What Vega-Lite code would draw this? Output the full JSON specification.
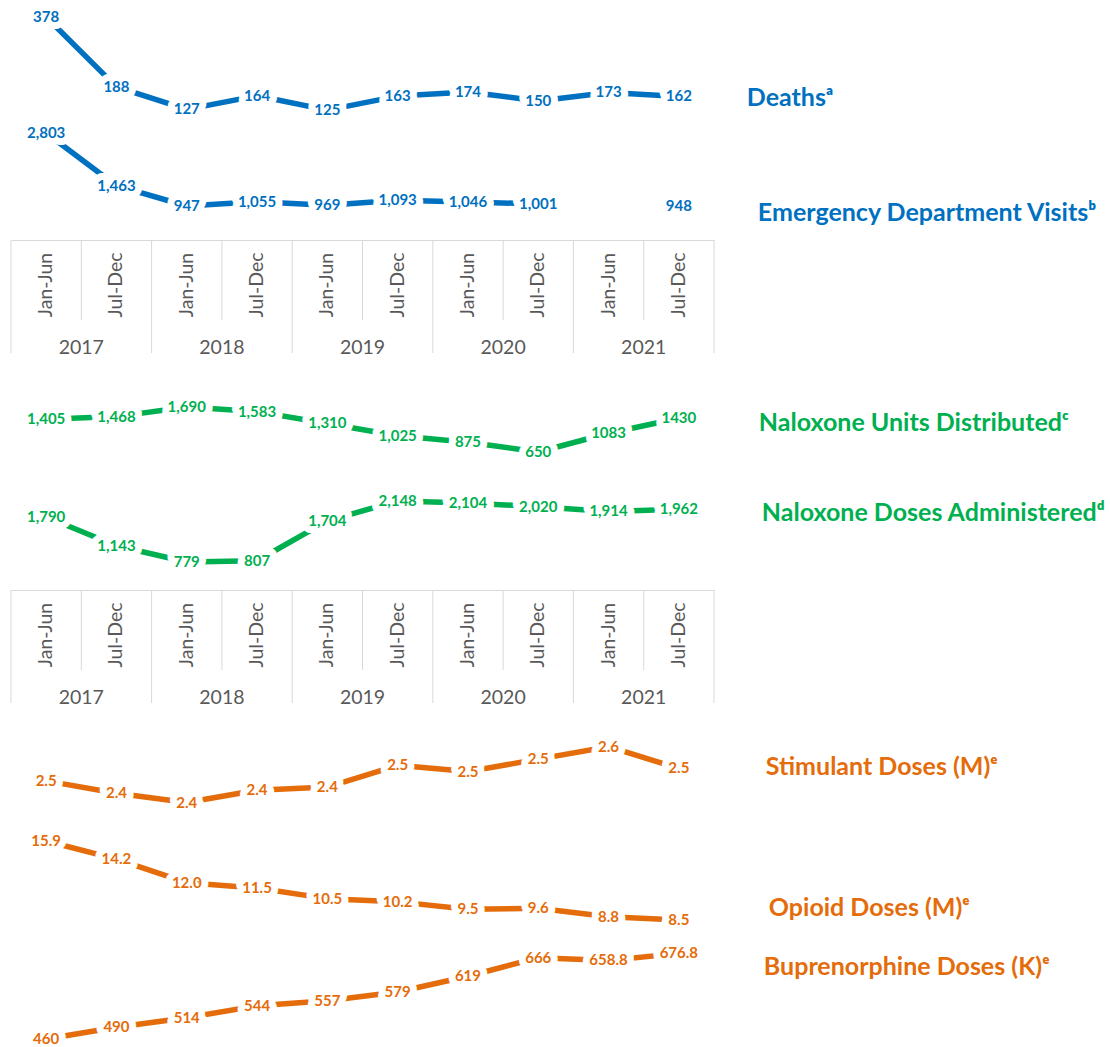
{
  "$schema": "https://vega.github.io/schema/vega-lite/v6.json",
  "padding": {"left": 10, "top": 0, "right": 0, "bottom": 0},
  "autosize": {"type": "pad"},
  "background": "white",
  "config": {"view": {"stroke": null}, "font": "Lato"},
  "spacing": 0,
  "bounds": "flush",
  "resolve": {"scale": {"x": "independent", "y": "independent"}},
  "datasets": {
    "d": [
      {"measure": "Deaths", "period": "2017 Jan-Jun", "value": 378, "label": "378"},
      {"measure": "Deaths", "period": "2017 Jul-Dec", "value": 188, "label": "188"},
      {"measure": "Deaths", "period": "2018 Jan-Jun", "value": 127, "label": "127"},
      {"measure": "Deaths", "period": "2018 Jul-Dec", "value": 164, "label": "164"},
      {"measure": "Deaths", "period": "2019 Jan-Jun", "value": 125, "label": "125"},
      {"measure": "Deaths", "period": "2019 Jul-Dec", "value": 163, "label": "163"},
      {"measure": "Deaths", "period": "2020 Jan-Jun", "value": 174, "label": "174"},
      {"measure": "Deaths", "period": "2020 Jul-Dec", "value": 150, "label": "150"},
      {"measure": "Deaths", "period": "2021 Jan-Jun", "value": 173, "label": "173"},
      {"measure": "Deaths", "period": "2021 Jul-Dec", "value": 162, "label": "162"},
      {"measure": "ED", "period": "2017 Jan-Jun", "value": 2803, "label": "2,803"},
      {"measure": "ED", "period": "2017 Jul-Dec", "value": 1463, "label": "1,463"},
      {"measure": "ED", "period": "2018 Jan-Jun", "value": 947, "label": "947"},
      {"measure": "ED", "period": "2018 Jul-Dec", "value": 1055, "label": "1,055"},
      {"measure": "ED", "period": "2019 Jan-Jun", "value": 969, "label": "969"},
      {"measure": "ED", "period": "2019 Jul-Dec", "value": 1093, "label": "1,093"},
      {"measure": "ED", "period": "2020 Jan-Jun", "value": 1046, "label": "1,046"},
      {"measure": "ED", "period": "2020 Jul-Dec", "value": 1001, "label": "1,001"},
      {"measure": "ED", "period": "2021 Jan-Jun", "value": null, "label": null},
      {"measure": "ED", "period": "2021 Jul-Dec", "value": 948, "label": "948"},
      {"measure": "NalUnits", "period": "2017 Jan-Jun", "value": 1405, "label": "1,405"},
      {"measure": "NalUnits", "period": "2017 Jul-Dec", "value": 1468, "label": "1,468"},
      {"measure": "NalUnits", "period": "2018 Jan-Jun", "value": 1690, "label": "1,690"},
      {"measure": "NalUnits", "period": "2018 Jul-Dec", "value": 1583, "label": "1,583"},
      {"measure": "NalUnits", "period": "2019 Jan-Jun", "value": 1310, "label": "1,310"},
      {"measure": "NalUnits", "period": "2019 Jul-Dec", "value": 1025, "label": "1,025"},
      {"measure": "NalUnits", "period": "2020 Jan-Jun", "value": 875, "label": "875"},
      {"measure": "NalUnits", "period": "2020 Jul-Dec", "value": 650, "label": "650"},
      {"measure": "NalUnits", "period": "2021 Jan-Jun", "value": 1083, "label": "1083"},
      {"measure": "NalUnits", "period": "2021 Jul-Dec", "value": 1430, "label": "1430"},
      {"measure": "NalDoses", "period": "2017 Jan-Jun", "value": 1790, "label": "1,790"},
      {"measure": "NalDoses", "period": "2017 Jul-Dec", "value": 1143, "label": "1,143"},
      {"measure": "NalDoses", "period": "2018 Jan-Jun", "value": 779, "label": "779"},
      {"measure": "NalDoses", "period": "2018 Jul-Dec", "value": 807, "label": "807"},
      {"measure": "NalDoses", "period": "2019 Jan-Jun", "value": 1704, "label": "1,704"},
      {"measure": "NalDoses", "period": "2019 Jul-Dec", "value": 2148, "label": "2,148"},
      {"measure": "NalDoses", "period": "2020 Jan-Jun", "value": 2104, "label": "2,104"},
      {"measure": "NalDoses", "period": "2020 Jul-Dec", "value": 2020, "label": "2,020"},
      {"measure": "NalDoses", "period": "2021 Jan-Jun", "value": 1914, "label": "1,914"},
      {"measure": "NalDoses", "period": "2021 Jul-Dec", "value": 1962, "label": "1,962"},
      {"measure": "Stimulant", "period": "2017 Jan-Jun", "value": 2.46, "label": "2.5"},
      {"measure": "Stimulant", "period": "2017 Jul-Dec", "value": 2.42, "label": "2.4"},
      {"measure": "Stimulant", "period": "2018 Jan-Jun", "value": 2.39, "label": "2.4"},
      {"measure": "Stimulant", "period": "2018 Jul-Dec", "value": 2.43, "label": "2.4"},
      {"measure": "Stimulant", "period": "2019 Jan-Jun", "value": 2.44, "label": "2.4"},
      {"measure": "Stimulant", "period": "2019 Jul-Dec", "value": 2.51, "label": "2.5"},
      {"measure": "Stimulant", "period": "2020 Jan-Jun", "value": 2.49, "label": "2.5"},
      {"measure": "Stimulant", "period": "2020 Jul-Dec", "value": 2.53, "label": "2.5"},
      {"measure": "Stimulant", "period": "2021 Jan-Jun", "value": 2.57, "label": "2.6"},
      {"measure": "Stimulant", "period": "2021 Jul-Dec", "value": 2.50, "label": "2.5"},
      {"measure": "Opioid", "period": "2017 Jan-Jun", "value": 15.9, "label": "15.9"},
      {"measure": "Opioid", "period": "2017 Jul-Dec", "value": 14.2, "label": "14.2"},
      {"measure": "Opioid", "period": "2018 Jan-Jun", "value": 12.0, "label": "12.0"},
      {"measure": "Opioid", "period": "2018 Jul-Dec", "value": 11.5, "label": "11.5"},
      {"measure": "Opioid", "period": "2019 Jan-Jun", "value": 10.5, "label": "10.5"},
      {"measure": "Opioid", "period": "2019 Jul-Dec", "value": 10.2, "label": "10.2"},
      {"measure": "Opioid", "period": "2020 Jan-Jun", "value": 9.5, "label": "9.5"},
      {"measure": "Opioid", "period": "2020 Jul-Dec", "value": 9.6, "label": "9.6"},
      {"measure": "Opioid", "period": "2021 Jan-Jun", "value": 8.8, "label": "8.8"},
      {"measure": "Opioid", "period": "2021 Jul-Dec", "value": 8.5, "label": "8.5"},
      {"measure": "Bupe", "period": "2017 Jan-Jun", "value": 460, "label": "460"},
      {"measure": "Bupe", "period": "2017 Jul-Dec", "value": 490, "label": "490"},
      {"measure": "Bupe", "period": "2018 Jan-Jun", "value": 514, "label": "514"},
      {"measure": "Bupe", "period": "2018 Jul-Dec", "value": 544, "label": "544"},
      {"measure": "Bupe", "period": "2019 Jan-Jun", "value": 557, "label": "557"},
      {"measure": "Bupe", "period": "2019 Jul-Dec", "value": 579, "label": "579"},
      {"measure": "Bupe", "period": "2020 Jan-Jun", "value": 619, "label": "619"},
      {"measure": "Bupe", "period": "2020 Jul-Dec", "value": 666, "label": "666"},
      {"measure": "Bupe", "period": "2021 Jan-Jun", "value": 658.8, "label": "658.8"},
      {"measure": "Bupe", "period": "2021 Jul-Dec", "value": 676.8, "label": "676.8"}
    ],
    "t": [
      {"period": "2017 Jan-Jun", "year": "2017", "half": "Jan-Jun"},
      {"period": "2017 Jul-Dec", "year": "2017", "half": "Jul-Dec"},
      {"period": "2018 Jan-Jun", "year": "2018", "half": "Jan-Jun"},
      {"period": "2018 Jul-Dec", "year": "2018", "half": "Jul-Dec"},
      {"period": "2019 Jan-Jun", "year": "2019", "half": "Jan-Jun"},
      {"period": "2019 Jul-Dec", "year": "2019", "half": "Jul-Dec"},
      {"period": "2020 Jan-Jun", "year": "2020", "half": "Jan-Jun"},
      {"period": "2020 Jul-Dec", "year": "2020", "half": "Jul-Dec"},
      {"period": "2021 Jan-Jun", "year": "2021", "half": "Jan-Jun"},
      {"period": "2021 Jul-Dec", "year": "2021", "half": "Jul-Dec"}
    ]
  },
  "vconcat": [
    {
      "width": 703, "height": 240,
      "data": {"name": "d"},
      "encoding": {"x": {"field": "period", "type": "ordinal", "axis": null, "scale": {"type": "point", "padding": 0.5, "domain": ["2017 Jan-Jun","2017 Jul-Dec","2018 Jan-Jun","2018 Jul-Dec","2019 Jan-Jun","2019 Jul-Dec","2020 Jan-Jun","2020 Jul-Dec","2021 Jan-Jun","2021 Jul-Dec"]}}},
      "layer": [
        {
          "transform": [{"filter": "datum.measure === 'Deaths'"}],
          "encoding": {"y": {"field": "value", "type": "quantitative", "axis": null, "scale": {"domain": [-228, 424.2], "nice": false, "zero": false}}},
          "layer": [
            {"mark": {"type": "line", "color": "#0070C0", "strokeWidth": 5.5, "strokeJoin": "round"}},
            {"mark": {"type": "text", "font": "Lato", "fontSize": 15, "fontWeight": "bold", "fill": "white", "stroke": "white", "strokeWidth": 14, "strokeJoin": "round"}, "encoding": {"text": {"field": "label"}}},
            {"mark": {"type": "text", "font": "Lato", "fontSize": 15, "fontWeight": "bold", "color": "#0070C0"}, "encoding": {"text": {"field": "label"}}},
            {"transform": [{"filter": "datum.period === '2021 Jul-Dec'"}], "mark": {"type": "text", "font": "Lato", "fontSize": 25, "fontWeight": "bold", "color": "#0070C0", "align": "left", "dx": 68, "dy": 1.5, "text": "Deathsᵃ"}}
          ]
        },
        {
          "transform": [{"filter": "datum.measure === 'ED'"}],
          "encoding": {"y": {"field": "value", "type": "quantitative", "axis": null, "scale": {"domain": [82.5, 6185], "nice": false, "zero": false}}},
          "layer": [
            {"mark": {"type": "line", "color": "#0070C0", "strokeWidth": 5.5, "strokeJoin": "round"}},
            {"mark": {"type": "text", "font": "Lato", "fontSize": 15, "fontWeight": "bold", "fill": "white", "stroke": "white", "strokeWidth": 14, "strokeJoin": "round"}, "encoding": {"text": {"field": "label"}}},
            {"mark": {"type": "text", "font": "Lato", "fontSize": 15, "fontWeight": "bold", "color": "#0070C0"}, "encoding": {"text": {"field": "label"}}},
            {"transform": [{"filter": "datum.period === '2021 Jul-Dec'"}], "mark": {"type": "text", "font": "Lato", "fontSize": 25, "fontWeight": "bold", "color": "#0070C0", "align": "left", "dx": 79, "dy": 7, "text": "Emergency Department Visitsᵇ"}}
          ]
        }
      ],
      "resolve": {"scale": {"y": "independent"}}
    },
    {
      "width": 703, "height": 80,
      "data": {"name": "t"},
      "layer": [
        {"mark": {"type": "rule", "color": "#D9D9D9", "strokeWidth": 1}, "encoding": {"x": {"field": "period", "type": "ordinal", "bandPosition": 0, "scale": {"type": "band", "padding": 0, "domain": ["2017 Jan-Jun","2017 Jul-Dec","2018 Jan-Jun","2018 Jul-Dec","2019 Jan-Jun","2019 Jul-Dec","2020 Jan-Jun","2020 Jul-Dec","2021 Jan-Jun","2021 Jul-Dec"]}, "axis": {"orient": "top", "domain": true, "domainColor": "#D9D9D9", "domainWidth": 1, "ticks": false, "labels": false, "grid": false, "title": null}}}},
        {"transform": [{"filter": "datum.period === '2021 Jul-Dec'"}], "mark": {"type": "rule", "color": "#D9D9D9", "strokeWidth": 1}, "encoding": {"x": {"field": "period", "type": "ordinal", "bandPosition": 1, "scale": {"type": "band", "padding": 0, "domain": ["2017 Jan-Jun","2017 Jul-Dec","2018 Jan-Jun","2018 Jul-Dec","2019 Jan-Jun","2019 Jul-Dec","2020 Jan-Jun","2020 Jul-Dec","2021 Jan-Jun","2021 Jul-Dec"]}, "axis": {"orient": "top", "domain": true, "domainColor": "#D9D9D9", "domainWidth": 1, "ticks": false, "labels": false, "grid": false, "title": null}}}},
        {"mark": {"type": "text", "font": "Lato", "fontSize": 19.5, "color": "#595959", "angle": 270, "dx": -5}, "encoding": {"x": {"field": "period", "type": "ordinal", "bandPosition": 0.5, "scale": {"type": "band", "padding": 0, "domain": ["2017 Jan-Jun","2017 Jul-Dec","2018 Jan-Jun","2018 Jul-Dec","2019 Jan-Jun","2019 Jul-Dec","2020 Jan-Jun","2020 Jul-Dec","2021 Jan-Jun","2021 Jul-Dec"]}, "axis": {"orient": "top", "domain": true, "domainColor": "#D9D9D9", "domainWidth": 1, "ticks": false, "labels": false, "grid": false, "title": null}}, "text": {"field": "half"}}}
      ]
    },
    {
      "width": 703, "height": 33,
      "data": {"name": "t"},
      "layer": [
        {"transform": [{"filter": "datum.half === 'Jan-Jun'"}], "mark": {"type": "rule", "color": "#D9D9D9", "strokeWidth": 1}, "encoding": {"x": {"field": "period", "type": "ordinal", "bandPosition": 0, "axis": null, "scale": {"type": "band", "padding": 0, "domain": ["2017 Jan-Jun","2017 Jul-Dec","2018 Jan-Jun","2018 Jul-Dec","2019 Jan-Jun","2019 Jul-Dec","2020 Jan-Jun","2020 Jul-Dec","2021 Jan-Jun","2021 Jul-Dec"]}}}},
        {"transform": [{"filter": "datum.period === '2021 Jul-Dec'"}], "mark": {"type": "rule", "color": "#D9D9D9", "strokeWidth": 1}, "encoding": {"x": {"field": "period", "type": "ordinal", "bandPosition": 1, "axis": null, "scale": {"type": "band", "padding": 0, "domain": ["2017 Jan-Jun","2017 Jul-Dec","2018 Jan-Jun","2018 Jul-Dec","2019 Jan-Jun","2019 Jul-Dec","2020 Jan-Jun","2020 Jul-Dec","2021 Jan-Jun","2021 Jul-Dec"]}}}},
        {"transform": [{"filter": "datum.half === 'Jan-Jun'"}], "mark": {"type": "text", "font": "Lato", "fontSize": 19.5, "color": "#595959", "dy": 11}, "encoding": {"x": {"field": "period", "type": "ordinal", "bandPosition": 1, "axis": null, "scale": {"type": "band", "padding": 0, "domain": ["2017 Jan-Jun","2017 Jul-Dec","2018 Jan-Jun","2018 Jul-Dec","2019 Jan-Jun","2019 Jul-Dec","2020 Jan-Jun","2020 Jul-Dec","2021 Jan-Jun","2021 Jul-Dec"]}}, "text": {"field": "year"}}}
      ]
    },
    {
      "width": 703, "height": 237,
      "data": {"name": "d"},
      "encoding": {"x": {"field": "period", "type": "ordinal", "axis": null, "scale": {"type": "point", "padding": 0.5, "domain": ["2017 Jan-Jun","2017 Jul-Dec","2018 Jan-Jun","2018 Jul-Dec","2019 Jan-Jun","2019 Jul-Dec","2020 Jan-Jun","2020 Jul-Dec","2021 Jan-Jun","2021 Jul-Dec"]}}},
      "layer": [
        {
          "transform": [{"filter": "datum.measure === 'NalUnits'"}],
          "encoding": {"y": {"field": "value", "type": "quantitative", "axis": null, "scale": {"domain": [-2539, 2938], "nice": false, "zero": false}}},
          "layer": [
            {"mark": {"type": "line", "color": "#00B050", "strokeWidth": 5.5, "strokeJoin": "round"}},
            {"mark": {"type": "text", "font": "Lato", "fontSize": 15, "fontWeight": "bold", "fill": "white", "stroke": "white", "strokeWidth": 14, "strokeJoin": "round"}, "encoding": {"text": {"field": "label"}}},
            {"mark": {"type": "text", "font": "Lato", "fontSize": 15, "fontWeight": "bold", "color": "#00B050"}, "encoding": {"text": {"field": "label"}}},
            {"transform": [{"filter": "datum.period === '2021 Jul-Dec'"}], "mark": {"type": "text", "font": "Lato", "fontSize": 25, "fontWeight": "bold", "color": "#00B050", "align": "left", "dx": 80, "dy": 5, "text": "Naloxone Units Distributedᶜ"}}
          ]
        },
        {
          "transform": [{"filter": "datum.measure === 'NalDoses'"}],
          "encoding": {"y": {"field": "value", "type": "quantitative", "axis": null, "scale": {"domain": [151, 5469], "nice": false, "zero": false}}},
          "layer": [
            {"mark": {"type": "line", "color": "#00B050", "strokeWidth": 5.5, "strokeJoin": "round"}},
            {"mark": {"type": "text", "font": "Lato", "fontSize": 15, "fontWeight": "bold", "fill": "white", "stroke": "white", "strokeWidth": 14, "strokeJoin": "round"}, "encoding": {"text": {"field": "label"}}},
            {"mark": {"type": "text", "font": "Lato", "fontSize": 15, "fontWeight": "bold", "color": "#00B050"}, "encoding": {"text": {"field": "label"}}},
            {"transform": [{"filter": "datum.period === '2021 Jul-Dec'"}], "mark": {"type": "text", "font": "Lato", "fontSize": 25, "fontWeight": "bold", "color": "#00B050", "align": "left", "dx": 83, "dy": 4, "text": "Naloxone Doses Administeredᵈ"}}
          ]
        }
      ],
      "resolve": {"scale": {"y": "independent"}}
    },
    {
      "width": 703, "height": 80,
      "data": {"name": "t"},
      "layer": [
        {"mark": {"type": "rule", "color": "#D9D9D9", "strokeWidth": 1}, "encoding": {"x": {"field": "period", "type": "ordinal", "bandPosition": 0, "scale": {"type": "band", "padding": 0, "domain": ["2017 Jan-Jun","2017 Jul-Dec","2018 Jan-Jun","2018 Jul-Dec","2019 Jan-Jun","2019 Jul-Dec","2020 Jan-Jun","2020 Jul-Dec","2021 Jan-Jun","2021 Jul-Dec"]}, "axis": {"orient": "top", "domain": true, "domainColor": "#D9D9D9", "domainWidth": 1, "ticks": false, "labels": false, "grid": false, "title": null}}}},
        {"transform": [{"filter": "datum.period === '2021 Jul-Dec'"}], "mark": {"type": "rule", "color": "#D9D9D9", "strokeWidth": 1}, "encoding": {"x": {"field": "period", "type": "ordinal", "bandPosition": 1, "scale": {"type": "band", "padding": 0, "domain": ["2017 Jan-Jun","2017 Jul-Dec","2018 Jan-Jun","2018 Jul-Dec","2019 Jan-Jun","2019 Jul-Dec","2020 Jan-Jun","2020 Jul-Dec","2021 Jan-Jun","2021 Jul-Dec"]}, "axis": {"orient": "top", "domain": true, "domainColor": "#D9D9D9", "domainWidth": 1, "ticks": false, "labels": false, "grid": false, "title": null}}}},
        {"mark": {"type": "text", "font": "Lato", "fontSize": 19.5, "color": "#595959", "angle": 270, "dx": -5}, "encoding": {"x": {"field": "period", "type": "ordinal", "bandPosition": 0.5, "scale": {"type": "band", "padding": 0, "domain": ["2017 Jan-Jun","2017 Jul-Dec","2018 Jan-Jun","2018 Jul-Dec","2019 Jan-Jun","2019 Jul-Dec","2020 Jan-Jun","2020 Jul-Dec","2021 Jan-Jun","2021 Jul-Dec"]}, "axis": {"orient": "top", "domain": true, "domainColor": "#D9D9D9", "domainWidth": 1, "ticks": false, "labels": false, "grid": false, "title": null}}, "text": {"field": "half"}}}
      ]
    },
    {
      "width": 703, "height": 33,
      "data": {"name": "t"},
      "layer": [
        {"transform": [{"filter": "datum.half === 'Jan-Jun'"}], "mark": {"type": "rule", "color": "#D9D9D9", "strokeWidth": 1}, "encoding": {"x": {"field": "period", "type": "ordinal", "bandPosition": 0, "axis": null, "scale": {"type": "band", "padding": 0, "domain": ["2017 Jan-Jun","2017 Jul-Dec","2018 Jan-Jun","2018 Jul-Dec","2019 Jan-Jun","2019 Jul-Dec","2020 Jan-Jun","2020 Jul-Dec","2021 Jan-Jun","2021 Jul-Dec"]}}}},
        {"transform": [{"filter": "datum.period === '2021 Jul-Dec'"}], "mark": {"type": "rule", "color": "#D9D9D9", "strokeWidth": 1}, "encoding": {"x": {"field": "period", "type": "ordinal", "bandPosition": 1, "axis": null, "scale": {"type": "band", "padding": 0, "domain": ["2017 Jan-Jun","2017 Jul-Dec","2018 Jan-Jun","2018 Jul-Dec","2019 Jan-Jun","2019 Jul-Dec","2020 Jan-Jun","2020 Jul-Dec","2021 Jan-Jun","2021 Jul-Dec"]}}}},
        {"transform": [{"filter": "datum.half === 'Jan-Jun'"}], "mark": {"type": "text", "font": "Lato", "fontSize": 19.5, "color": "#595959", "dy": 11}, "encoding": {"x": {"field": "period", "type": "ordinal", "bandPosition": 1, "axis": null, "scale": {"type": "band", "padding": 0, "domain": ["2017 Jan-Jun","2017 Jul-Dec","2018 Jan-Jun","2018 Jul-Dec","2019 Jan-Jun","2019 Jul-Dec","2020 Jan-Jun","2020 Jul-Dec","2021 Jan-Jun","2021 Jul-Dec"]}}, "text": {"field": "year"}}}
      ]
    },
    {
      "width": 703, "height": 344,
      "data": {"name": "d"},
      "encoding": {"x": {"field": "period", "type": "ordinal", "axis": null, "scale": {"type": "point", "padding": 0.5, "domain": ["2017 Jan-Jun","2017 Jul-Dec","2018 Jan-Jun","2018 Jul-Dec","2019 Jan-Jun","2019 Jul-Dec","2020 Jan-Jun","2020 Jul-Dec","2021 Jan-Jun","2021 Jul-Dec"]}}},
      "layer": [
        {
          "transform": [{"filter": "datum.measure === 'Stimulant'"}],
          "encoding": {"y": {"field": "value", "type": "quantitative", "axis": null, "scale": {"domain": [1.602, 2.711], "nice": false, "zero": false}}},
          "layer": [
            {"mark": {"type": "line", "color": "#E46C0A", "strokeWidth": 5.5, "strokeJoin": "round"}},
            {"mark": {"type": "text", "font": "Lato", "fontSize": 15, "fontWeight": "bold", "fill": "white", "stroke": "white", "strokeWidth": 14, "strokeJoin": "round"}, "encoding": {"text": {"field": "label"}}},
            {"mark": {"type": "text", "font": "Lato", "fontSize": 15, "fontWeight": "bold", "color": "#E46C0A"}, "encoding": {"text": {"field": "label"}}},
            {"transform": [{"filter": "datum.period === '2021 Jul-Dec'"}], "mark": {"type": "text", "font": "Lato", "fontSize": 25, "fontWeight": "bold", "color": "#E46C0A", "align": "left", "dx": 87, "dy": -1, "text": "Stimulant Doses (M)ᵉ"}}
          ]
        },
        {
          "transform": [{"filter": "datum.measure === 'Opioid'"}],
          "encoding": {"y": {"field": "value", "type": "quantitative", "axis": null, "scale": {"domain": [-3.39, 28.82], "nice": false, "zero": false}}},
          "layer": [
            {"mark": {"type": "line", "color": "#E46C0A", "strokeWidth": 5.5, "strokeJoin": "round"}},
            {"mark": {"type": "text", "font": "Lato", "fontSize": 15, "fontWeight": "bold", "fill": "white", "stroke": "white", "strokeWidth": 14, "strokeJoin": "round"}, "encoding": {"text": {"field": "label"}}},
            {"mark": {"type": "text", "font": "Lato", "fontSize": 15, "fontWeight": "bold", "color": "#E46C0A"}, "encoding": {"text": {"field": "label"}}},
            {"transform": [{"filter": "datum.period === '2021 Jul-Dec'"}], "mark": {"type": "text", "font": "Lato", "fontSize": 25, "fontWeight": "bold", "color": "#E46C0A", "align": "left", "dx": 90, "dy": -12, "text": "Opioid Doses (M)ᵉ"}}
          ]
        },
        {
          "transform": [{"filter": "datum.measure === 'Bupe'"}],
          "encoding": {"y": {"field": "value", "type": "quantitative", "axis": null, "scale": {"domain": [439.8, 1310.7], "nice": false, "zero": false}}},
          "layer": [
            {"mark": {"type": "line", "color": "#E46C0A", "strokeWidth": 5.5, "strokeJoin": "round"}},
            {"mark": {"type": "text", "font": "Lato", "fontSize": 15, "fontWeight": "bold", "fill": "white", "stroke": "white", "strokeWidth": 14, "strokeJoin": "round"}, "encoding": {"text": {"field": "label"}}},
            {"mark": {"type": "text", "font": "Lato", "fontSize": 15, "fontWeight": "bold", "color": "#E46C0A"}, "encoding": {"text": {"field": "label"}}},
            {"transform": [{"filter": "datum.period === '2021 Jul-Dec'"}], "mark": {"type": "text", "font": "Lato", "fontSize": 25, "fontWeight": "bold", "color": "#E46C0A", "align": "left", "dx": 85, "dy": 14, "text": "Buprenorphine Doses (K)ᵉ"}}
          ]
        }
      ],
      "resolve": {"scale": {"y": "independent"}}
    }
  ]
}
